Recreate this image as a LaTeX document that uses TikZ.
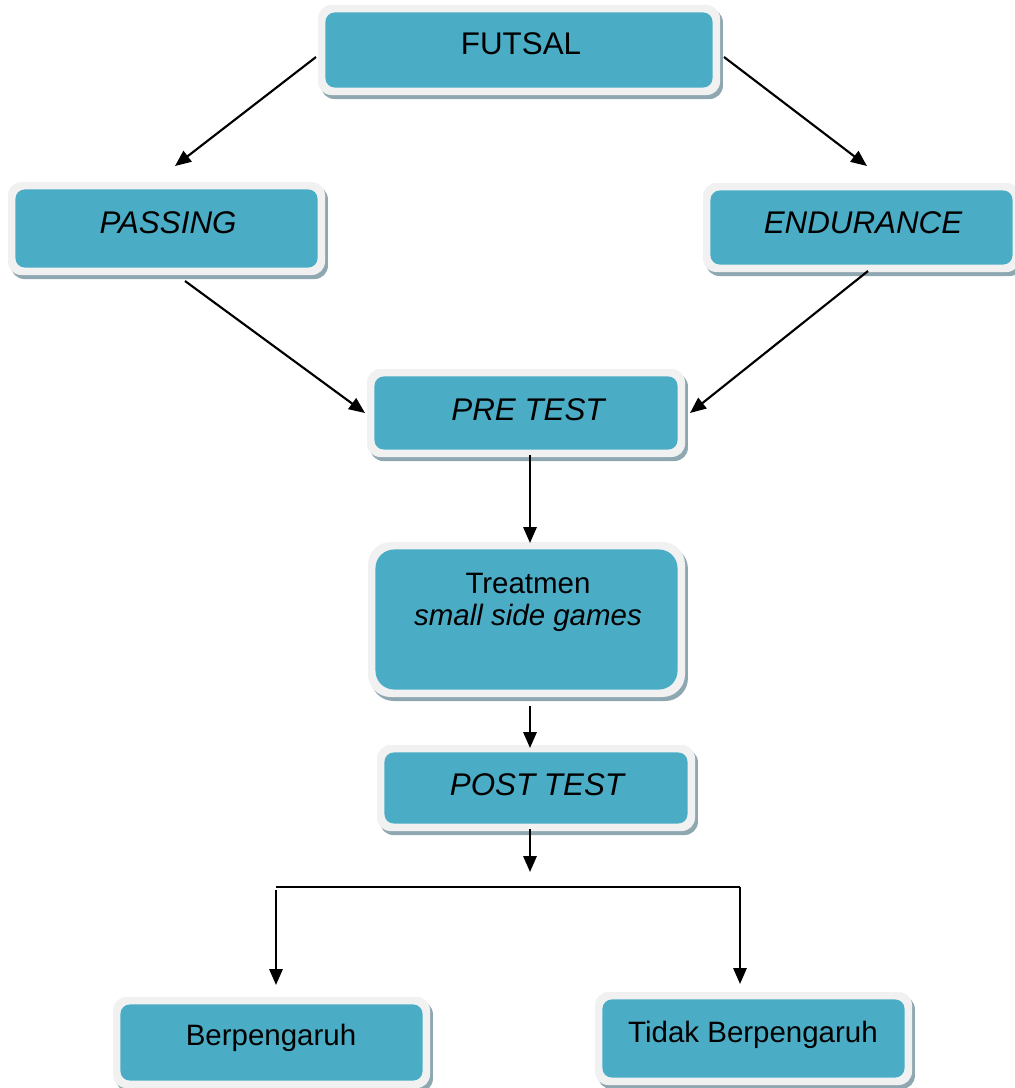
\documentclass[tikz,border=0pt]{standalone}
\usepackage{fontspec}
\setmainfont{Liberation Sans}
\usetikzlibrary{fit,shadows,arrows.meta}
\definecolor{tealfill}{HTML}{4BACC6}
\definecolor{rimfill}{HTML}{F1F1F1}
\definecolor{shadowcol}{HTML}{8FA7B1}
\tikzset{
  boxbase/.style={inner sep=0pt, draw=none, fill=rimfill,
    rounded corners=#1,
    general shadow={fill=shadowcol, shadow xshift=2.2pt, shadow yshift=-3pt},
    path picture={\fill[tealfill, rounded corners=#1-3pt]
      ([shift={(5.6pt,5.6pt)}]path picture bounding box.south west) rectangle
      ([shift={(-5.6pt,-5.6pt)}]path picture bounding box.north east);}},
  boxbase/.default=10pt,
  lbl/.style={anchor=base, inner sep=0pt, font=\fontsize{22.1}{27}\selectfont},
  lblup/.style={anchor=base, inner sep=0pt, font=\fontsize{23.5}{28}\selectfont},
  arr/.style={line width=1.6pt, -{Triangle[length=12pt,width=10pt]}},
  plain/.style={line width=1.6pt}
}
\begin{document}
\begin{tikzpicture}[x=0.75pt,y=-0.75pt]
\useasboundingbox (0,0) rectangle (1014,1088);
% boxes
\node[boxbase, fit={(318,5) (720,95)}] (futsal) {};
\node[boxbase, fit={(8,182) (325,275)}] (passing) {};
\node[boxbase, fit={(703,183) (1020,272)}] (endurance) {};
\node[boxbase, fit={(367,369) (685,457)}] (pretest) {};
\node[boxbase=17pt, fit={(368,542) (685,697)}] (treat) {};
\node[boxbase, fit={(377,745) (695,831)}] (posttest) {};
\node[boxbase, fit={(113,997) (430,1088)}] (berp) {};
\node[boxbase, fit={(595,992) (912,1085)}] (tidak) {};
% texts
\node[lblup] (futsalT) at (521,55) {FUTSAL};
\node[lblup] (passingT) at (168,233) {\itshape PASSING};
\node[lblup] (enduranceT) at (863,233) {\itshape ENDURANCE};
\node[lblup] (pretestT) at (528,420) {\itshape PRE TEST};
\node[lbl] (treatT) at (528,593) {Treatmen};
\node[lbl] (treatS) at (528,625) {\itshape small side games};
\node[lblup] (posttestT) at (537,795) {\itshape POST TEST};
\node[lbl] (berpT) at (271,1045) {Berpengaruh};
\node[lbl] (tidakT) at (753,1042) {Tidak Berpengaruh};
% connector end points
\coordinate (s1) at (316,57);  \coordinate (e1) at (175,166);
\coordinate (s2) at (724,57);  \coordinate (e2) at (867,166);
\coordinate (s3) at (185,281); \coordinate (e3) at (365,413);
\coordinate (s4) at (868,271); \coordinate (e4) at (690,413);
\coordinate (s5) at (530,455); \coordinate (e5) at (530,543);
\coordinate (s6) at (530,706); \coordinate (e6) at (530,748);
\coordinate (s7) at (530,829); \coordinate (e7) at (530,872);
\coordinate (hl) at (276,887); \coordinate (hr) at (740,887);
\coordinate (e8) at (276,985); \coordinate (e9) at (740,984);
% connectors
\draw[arr] (s1) -- (e1);
\draw[arr] (s2) -- (e2);
\draw[arr] (s3) -- (e3);
\draw[arr] (s4) -- (e4);
\draw[arr] (s5) -- (e5);
\draw[arr] (s6) -- (e6);
\draw[arr] (s7) -- (e7);
\draw[plain] (hl) -- (hr);
\draw[arr] ([yshift=-2pt]hl) -- (e8);
\draw[arr] (hr) -- (e9);
\end{tikzpicture}
\end{document}
